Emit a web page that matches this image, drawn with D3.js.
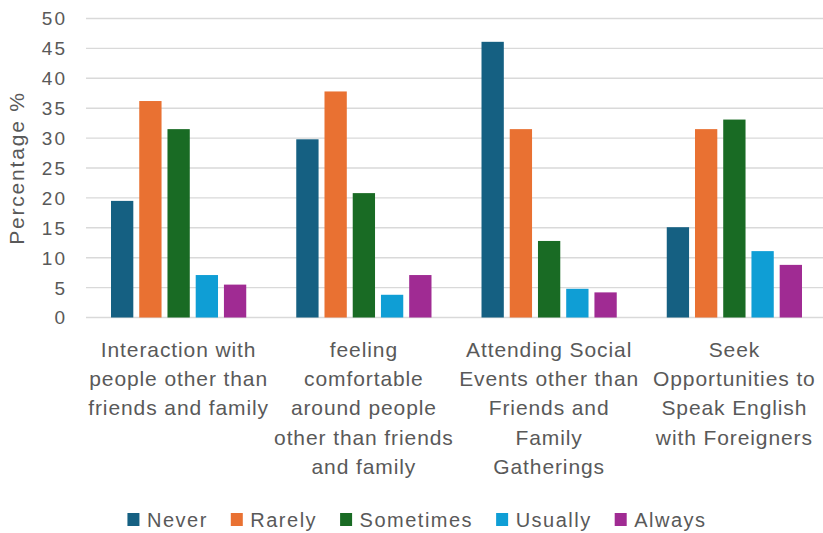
<!DOCTYPE html>
<html>
<head>
<meta charset="utf-8">
<script src="https://cdn.jsdelivr.net/npm/d3@7"></script>
<style>
  html, body { margin: 0; padding: 0; background: #fff; }
  svg { display: block; }
  text { font-family: "Liberation Sans", Arial, sans-serif; fill: #595959; }
</style>
</head>
<body>
<svg id="chart" width="823" height="533"></svg>
<script>
// Survey responses (percentage of respondents) by frequency
const categories = [
  ["Interaction with", "people other than", "friends and family"],
  ["feeling", "comfortable", "around people", "other than friends", "and family"],
  ["Attending Social", "Events other than", "Friends and", "Family", "Gatherings"],
  ["Seek", "Opportunities to", "Speak English", "with Foreigners"]
];
const seriesNames = ["Never", "Rarely", "Sometimes", "Usually", "Always"];
const never     = [19.5, 29.8, 46.1, 15.1];
const rarely    = [36.2, 37.8, 31.5, 31.5];
const sometimes = [31.5, 20.8, 12.8, 33.1];
const usually   = [7.1, 3.8, 4.8, 11.1];
const always    = [5.5, 7.1, 4.2, 8.8];
const yTicks = [0, 5, 10, 15, 20, 25, 30, 35, 40, 45, 50];
const colors = ["#156082", "#E97132", "#196B24", "#0F9ED5", "#A02B93"];

const seriesValues = [never, rarely, sometimes, usually, always];
const svg = d3.select("#chart");

const plot = { left: 86, right: 827, top: 18.5, bottom: 317.5 };

const x0 = d3.scaleBand()
  .domain(d3.range(categories.length))
  .range([plot.left, plot.right])
  .paddingInner(0.27)
  .paddingOuter(0.135);

const x1 = d3.scaleBand()
  .domain(seriesNames)
  .range([0, x0.bandwidth()])
  .paddingInner(0.21);

const y = d3.scaleLinear().domain([0, 50]).range([plot.bottom, plot.top]);

// Horizontal gridlines
svg.append("g")
  .selectAll("line")
  .data(yTicks)
  .join("line")
  .attr("x1", plot.left)
  .attr("x2", plot.right)
  .attr("y1", d => y(d))
  .attr("y2", d => y(d))
  .attr("stroke", "#d9d9d9")
  .attr("stroke-width", 1.4);

// Y axis tick labels
const yAxis = d3.axisLeft(y).tickValues(yTicks).tickSize(0).tickPadding(0);
const yAxisG = svg.append("g")
  .attr("transform", `translate(${plot.left - 19},0)`)
  .call(yAxis);
yAxisG.select(".domain").remove();
yAxisG.selectAll("text")
  .attr("font-size", "19px")
  .attr("font-family", null)
  .attr("letter-spacing", "2px")
  .attr("fill", "#595959")
  .attr("dy", "0.34em");

// Y axis title
svg.append("text")
  .attr("transform", `translate(23.5,${(plot.top + plot.bottom) / 2}) rotate(-90)`)
  .attr("text-anchor", "middle")
  .attr("font-size", "21px")
  .attr("letter-spacing", "1.8px")
  .text("Percentage %");

// Bars
const groups = svg.append("g")
  .selectAll("g")
  .data(categories.map((c, i) => i))
  .join("g")
  .attr("transform", i => `translate(${x0(i)},0)`);

groups.selectAll("rect")
  .data(i => seriesNames.map((name, s) => ({ name, s, value: seriesValues[s][i] })))
  .join("rect")
  .attr("x", d => x1(d.name))
  .attr("width", x1.bandwidth())
  .attr("y", d => y(d.value))
  .attr("height", d => y(0) - y(d.value))
  .attr("fill", d => colors[d.s]);

// Category labels (wrapped lines)
const catLabels = svg.append("g")
  .selectAll("text")
  .data(categories.map((lines, i) => ({ lines, i })))
  .join("text")
  .attr("text-anchor", "middle")
  .attr("font-size", "21px")
  .attr("letter-spacing", "0.9px")
  .attr("x", d => x0(d.i) + x0.bandwidth() / 2)
  .attr("y", 357);

catLabels.selectAll("tspan")
  .data(d => d.lines.map(line => ({ line, cx: x0(d.i) + x0.bandwidth() / 2 })))
  .join("tspan")
  .attr("x", d => d.cx)
  .attr("dy", (d, k) => k === 0 ? 0 : 29.2)
  .text(d => d.line);

// Legend
const legend = svg.append("g");
const items = legend.selectAll("g")
  .data(seriesNames)
  .join("g");
items.append("rect")
  .attr("width", 12)
  .attr("height", 13)
  .attr("y", -14)
  .attr("fill", (d, i) => colors[i]);
items.append("text")
  .attr("x", 19.5)
  .attr("y", 0)
  .attr("font-size", "20px")
  .attr("letter-spacing", "1.5px")
  .text(d => d);

const itemGap = 23;
let cursor = 0;
items.each(function () {
  const g = d3.select(this);
  g.attr("transform", `translate(${cursor},0)`);
  const w = 19.5 + g.select("text").node().getComputedTextLength();
  cursor += w + itemGap;
});
const legendWidth = cursor - itemGap;
legend.attr("transform", `translate(${417 - legendWidth / 2},527)`);
</script>
</body>
</html>
